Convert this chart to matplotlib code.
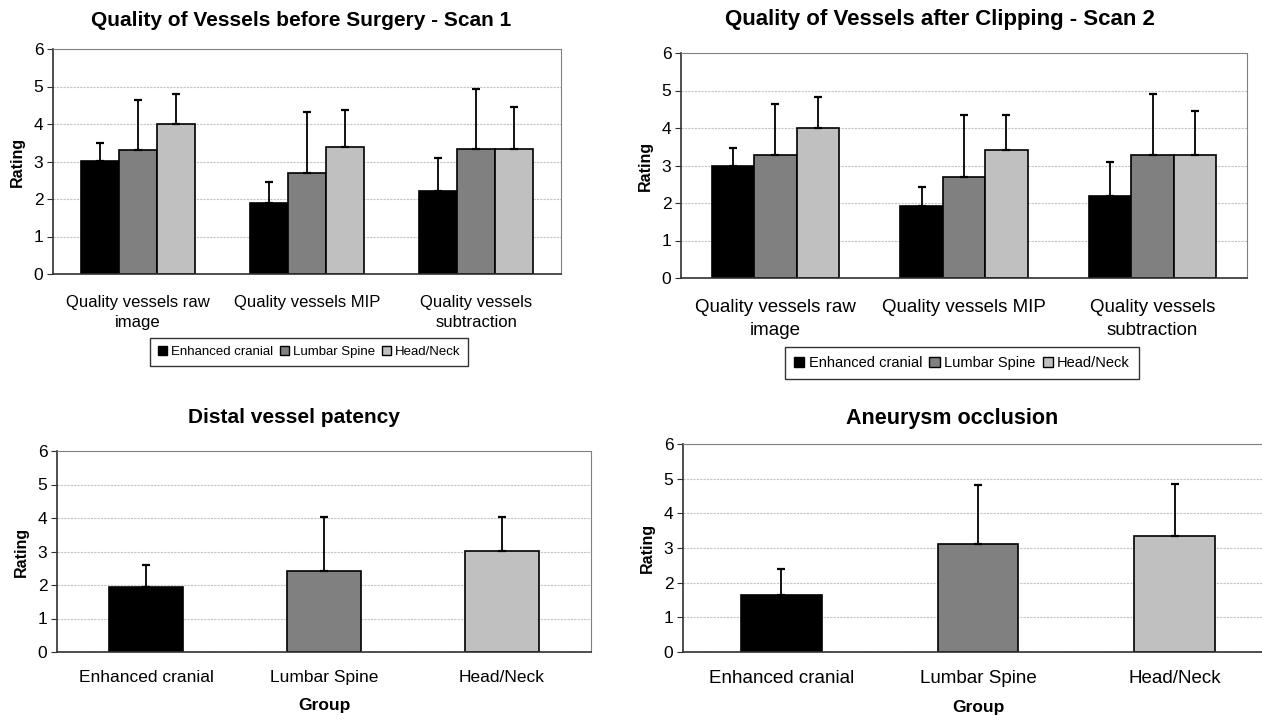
import numpy as np
import matplotlib
matplotlib.use("Agg")
import matplotlib.pyplot as plt
from matplotlib.patches import Patch

plt.rcParams['font.family'] = ['Liberation Sans', 'DejaVu Sans']

groups = ['Enhanced cranial', 'Lumbar Spine', 'Head/Neck']
colors = ['#000000', '#808080', '#c0c0c0']
quality_cats = ['Quality vessels raw\nimage', 'Quality vessels MIP', 'Quality vessels\nsubtraction']

# rows = quality category, cols = group
scan1_mean = [[3.01, 3.31, 4.00], [1.89, 2.69, 3.39], [2.21, 3.33, 3.33]]
scan1_sd = [[0.48, 1.33, 0.80], [0.56, 1.63, 0.98], [0.88, 1.60, 1.12]]
scan2_mean = [[3.00, 3.29, 3.99], [1.91, 2.70, 3.41], [2.19, 3.29, 3.29]]
scan2_sd = [[0.48, 1.36, 0.84], [0.53, 1.64, 0.93], [0.91, 1.63, 1.16]]

patency_mean = [1.94, 2.43, 3.01]
patency_sd = [0.66, 1.61, 1.03]
occlusion_mean = [1.63, 3.11, 3.34]
occlusion_sd = [0.75, 1.70, 1.50]

W, H = 1262, 720
fig = plt.figure(figsize=(W / 100, H / 100), dpi=100)


def px_axes(x0, y0, x1, y1):
    return fig.add_axes([x0 / W, 1 - y1 / H, (x1 - x0) / W, (y1 - y0) / H])


def style(ax, xpad):
    ax.set_ylim(0, 6)
    ax.set_xlim(0, 3)
    ax.set_yticks(range(7))
    ax.yaxis.grid(True, color='#c4c4c4', linestyle=(0, (2, 1)), linewidth=0.8)
    ax.set_axisbelow(True)
    for s in ['left', 'bottom']:
        ax.spines[s].set_color('#303030')
        ax.spines[s].set_linewidth(1.2)
    for s in ['top', 'right']:
        ax.spines[s].set_color('#808080')
    ax.tick_params(axis='y', direction='out', length=4, labelsize=12.5, color='#303030', pad=3)
    ax.tick_params(axis='x', length=0, pad=xpad)
    ax.set_ylabel('Rating', fontsize=11.5, fontweight='bold', labelpad=6)


def grouped(ax, means, sds, fs):
    means = np.array(means)
    sds = np.array(sds)
    base = np.arange(3) + 0.5
    w = 0.225
    for j in range(3):
        x = base + (j - 1) * w
        ax.bar(x, means[:, j], width=w, color=colors[j], edgecolor='black', linewidth=1.2, zorder=2)
        ax.errorbar(x, means[:, j], yerr=[np.zeros(3), sds[:, j]], fmt='none', ecolor='black',
                    elinewidth=1.3, capsize=3, capthick=1.6, zorder=3)
    ax.set_xticks(base)
    ax.set_xticklabels(quality_cats, fontsize=fs, linespacing=1.45)
    style(ax, 15)


def single(ax, means, sds, w, fs):
    x = np.arange(3) + 0.5
    ax.bar(x, means, width=w, color=colors, edgecolor='black', linewidth=1.2, zorder=2)
    ax.errorbar(x, means, yerr=[np.zeros(3), sds], fmt='none', ecolor='black',
                elinewidth=1.3, capsize=3, capthick=1.6, zorder=3)
    ax.set_xticks(x)
    ax.set_xticklabels(groups, fontsize=fs)
    style(ax, 13)
    ax.set_xlabel('Group', fontsize=12.5, fontweight='bold', labelpad=9)


handles = [Patch(facecolor=c, edgecolor='black', linewidth=1) for c in colors]

# top-left
ax1 = px_axes(53, 49, 561, 274)
grouped(ax1, scan1_mean, scan1_sd, 12)
fig.text(301 / W, 1 - 20 / H, 'Quality of Vessels before Surgery - Scan 1', ha='center', va='center',
         fontsize=15, fontweight='bold')
fig.legend(handles, groups, loc='center', bbox_to_anchor=(309 / W, 1 - 352 / H), ncol=3,
           fontsize=9.5, frameon=True, fancybox=False, edgecolor='black', handlelength=0.7,
           handleheight=0.7, handletextpad=0.3, columnspacing=0.5, borderpad=0.6)

# top-right
ax2 = px_axes(681, 53, 1247, 278)
grouped(ax2, scan2_mean, scan2_sd, 13.5)
fig.text(940 / W, 1 - 20 / H, 'Quality of Vessels after Clipping - Scan 2', ha='center', va='center',
         fontsize=16, fontweight='bold')
fig.legend(handles, groups, loc='center', bbox_to_anchor=(962 / W, 1 - 363 / H), ncol=3,
           fontsize=10.5, frameon=True, fancybox=False, edgecolor='black', handlelength=0.7,
           handleheight=0.7, handletextpad=0.3, columnspacing=0.5, borderpad=0.6)

# bottom-left
ax3 = px_axes(57, 451, 591, 652)
single(ax3, patency_mean, patency_sd, 0.42, 12.5)
fig.text(294 / W, 1 - 417 / H, 'Distal vessel patency', ha='center', va='center',
         fontsize=15, fontweight='bold')

# bottom-right
ax4 = px_axes(683, 444, 1273, 652)
single(ax4, occlusion_mean, occlusion_sd, 0.41, 13.5)
fig.text(952 / W, 1 - 418 / H, 'Aneurysm occlusion', ha='center', va='center',
         fontsize=15.5, fontweight='bold')

fig.savefig('out.png', dpi=100, facecolor='white')
